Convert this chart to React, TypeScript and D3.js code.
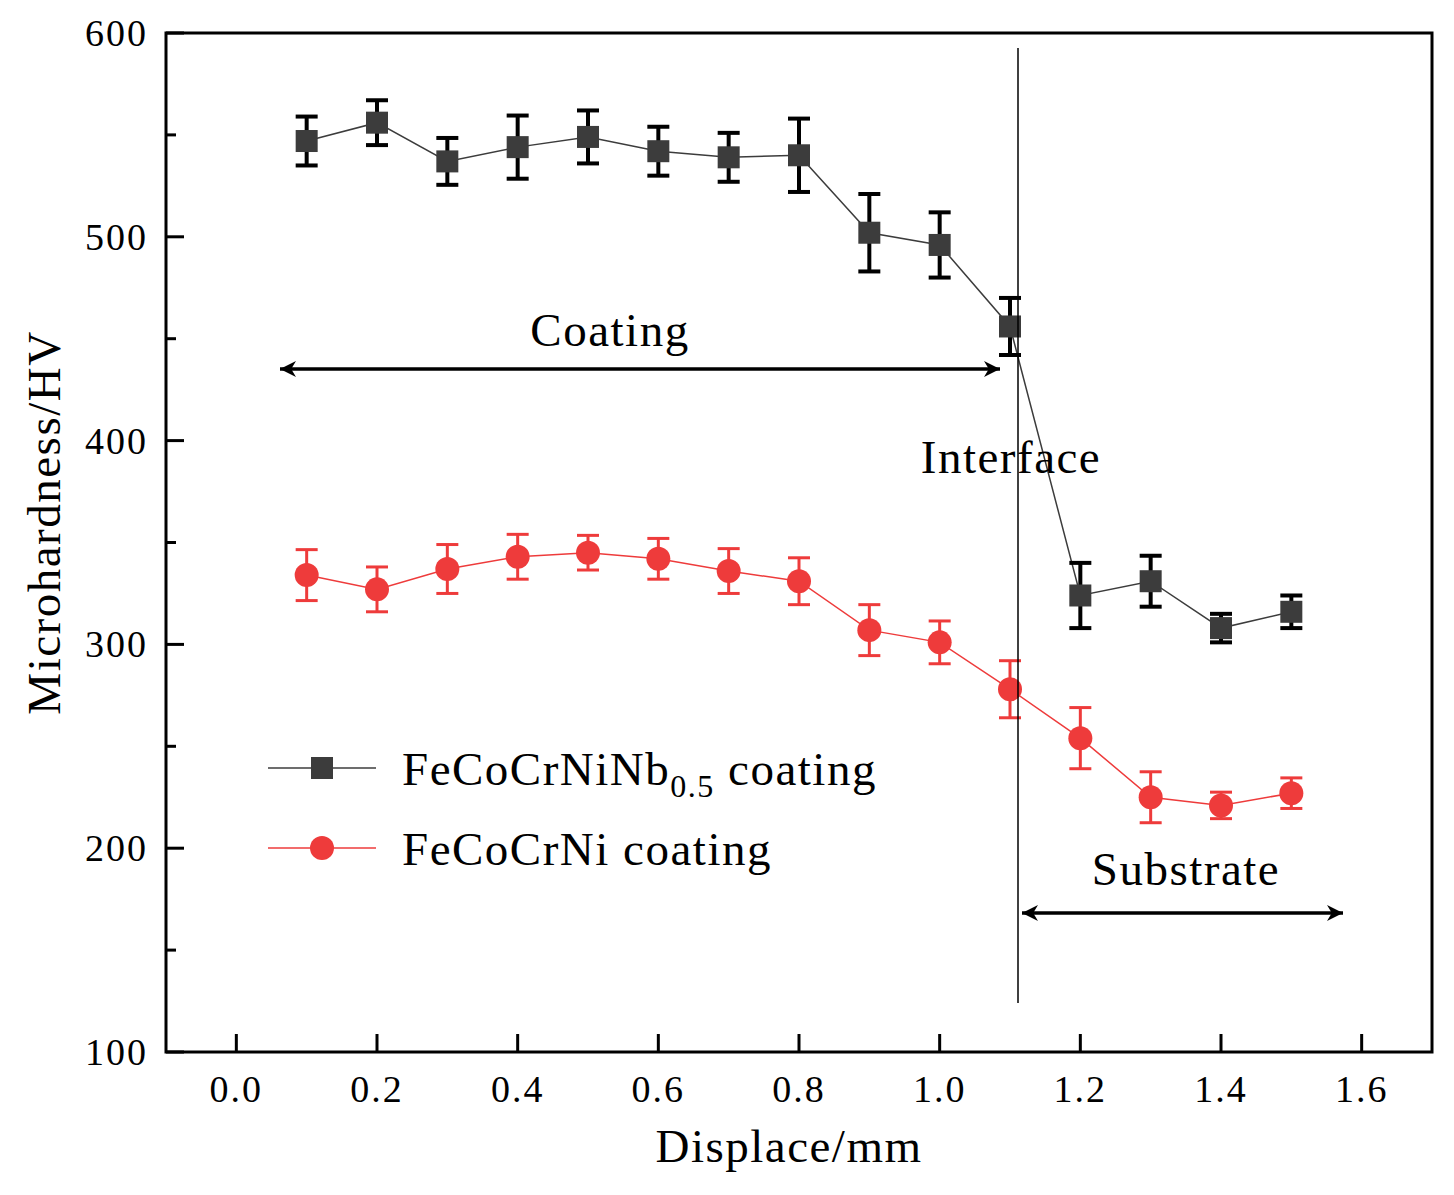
import React from "react";
import * as d3 from "d3";

const xs = [0.1,0.2,0.3,0.4,0.5,0.6,0.7,0.8,0.9,1.0,1.1,1.2,1.3,1.4,1.5];
const nbVals = [547,556,537,544,549,542,539,540,502,496,456,324,331,308,316];
const nbErr = [12,11,11.5,15.5,13,12,12,18,19,16,14,16,12.5,7,8];
const niVals = [334,327,337,343,345,342,336,331,307,301,278,254,225,221,227];
const niErr = [12.5,11,12,11,8.5,10,11,11.5,12.5,10.5,14,15,12.5,6.5,7.5];
const xTicks = [0,0.2,0.4,0.6,0.8,1.0,1.2,1.4,1.6];
const yTicks = [100,200,300,400,500,600];
const yMinor = [150,250,350,450,550];

const L = 166, R = 1432, T = 33, B = 1052;
const font = "Times New Roman, Liberation Serif, serif";

export default function App() {
  const x = d3.scaleLinear().domain([-0.1, 1.7]).range([L, R]);
  const y = d3.scaleLinear().domain([100, 600]).range([B, T]);
  const line = d3.line<number>().x((_, i) => x(xs[i])).y(v => y(v));
  const series = [
    { vals: nbVals, err: nbErr, color: "#3c3c3c", bar: "#000", sq: true, lw: 1.5, ew: 4 },
    { vals: niVals, err: niErr, color: "#ee3b3b", bar: "#ee3b3b", sq: false, lw: 1.5, ew: 3 },
  ];
  const big = { fontSize: 47, letterSpacing: 1.5 };
  return (
    <svg width={1454} height={1195} style={{ display: "block", margin: -8 }} fontFamily={font}>
      <defs>
        <marker id="ah" viewBox="0 0 10 10" refX="10" refY="5" markerWidth="22" markerHeight="16" markerUnits="userSpaceOnUse" orient="auto-start-reverse">
          <path d="M0,0 L10,5 L0,10 L3,5 z" fill="#000" />
        </marker>
      </defs>
      <rect width={1454} height={1195} fill="#fff" />
      {series.map((s, k) => (
        <g key={k}>
          <path d={line(s.vals)!} fill="none" stroke={s.color} strokeWidth={s.lw} />
          {s.vals.map((v, i) => {
            const cx = x(xs[i]);
            return (
              <g key={i} stroke={s.bar} strokeWidth={s.ew}>
                <line x1={cx} x2={cx} y1={y(v + s.err[i])} y2={y(v - s.err[i])} />
                <line x1={cx - 11} x2={cx + 11} y1={y(v + s.err[i])} y2={y(v + s.err[i])} />
                <line x1={cx - 11} x2={cx + 11} y1={y(v - s.err[i])} y2={y(v - s.err[i])} />
              </g>
            );
          })}
          {s.vals.map((v, i) =>
            s.sq ? (
              <rect key={"m" + i} x={x(xs[i]) - 11} y={y(v) - 11} width={22} height={22} fill={s.color} />
            ) : (
              <circle key={"m" + i} cx={x(xs[i])} cy={y(v)} r={12} fill={s.color} />
            )
          )}
        </g>
      ))}
      <line x1={1018} x2={1018} y1={48} y2={1003} stroke="#000" strokeWidth={1.5} />
      <line x1={280} x2={1000} y1={369} y2={369} stroke="#000" strokeWidth={3.5} markerStart="url(#ah)" markerEnd="url(#ah)" />
      <line x1={1022} x2={1343} y1={913} y2={913} stroke="#000" strokeWidth={3.5} markerStart="url(#ah)" markerEnd="url(#ah)" />
      <text x={610} y={346} {...big} textAnchor="middle">Coating</text>
      <text x={1011} y={473} {...big} textAnchor="middle">Interface</text>
      <text x={1186} y={885} {...big} textAnchor="middle">Substrate</text>
      <rect x={L} y={T} width={R - L} height={B - T} fill="none" stroke="#000" strokeWidth={3} />
      {xTicks.map(t => (
        <g key={t}>
          <line x1={x(t)} x2={x(t)} y1={B} y2={B - 18} stroke="#000" strokeWidth={3} />
          <text x={x(t)} y={B + 50} fontSize={38} letterSpacing={2} textAnchor="middle">{t.toFixed(1)}</text>
        </g>
      ))}
      {yTicks.map(t => (
        <g key={t}>
          <line x1={L} x2={L + 18} y1={y(t)} y2={y(t)} stroke="#000" strokeWidth={3} />
          <text x={L - 18} y={y(t) + 13} fontSize={38} letterSpacing={2} textAnchor="end">{t}</text>
        </g>
      ))}
      {yMinor.map(t => (
        <line key={t} x1={L} x2={L + 10} y1={y(t)} y2={y(t)} stroke="#000" strokeWidth={3} />
      ))}
      <text x={(L + R) / 2 - 10} y={1162} {...big} textAnchor="middle">Displace/mm</text>
      <text transform={`translate(60,${(T + B) / 2 - 20}) rotate(-90)`} {...big} textAnchor="middle">Microhardness/HV</text>
      <line x1={268} x2={376} y1={768} y2={768} stroke="#3c3c3c" strokeWidth={1.5} />
      <rect x={311} y={757} width={22} height={22} fill="#3c3c3c" />
      <text x={402} y={785} {...big}>FeCoCrNiNb<tspan fontSize={32} dy={12}>0.5</tspan><tspan dy={-12}> coating</tspan></text>
      <line x1={268} x2={376} y1={848} y2={848} stroke="#ee3b3b" strokeWidth={1.5} />
      <circle cx={322} cy={848} r={12} fill="#ee3b3b" />
      <text x={402} y={865} {...big}>FeCoCrNi coating</text>
    </svg>
  );
}
